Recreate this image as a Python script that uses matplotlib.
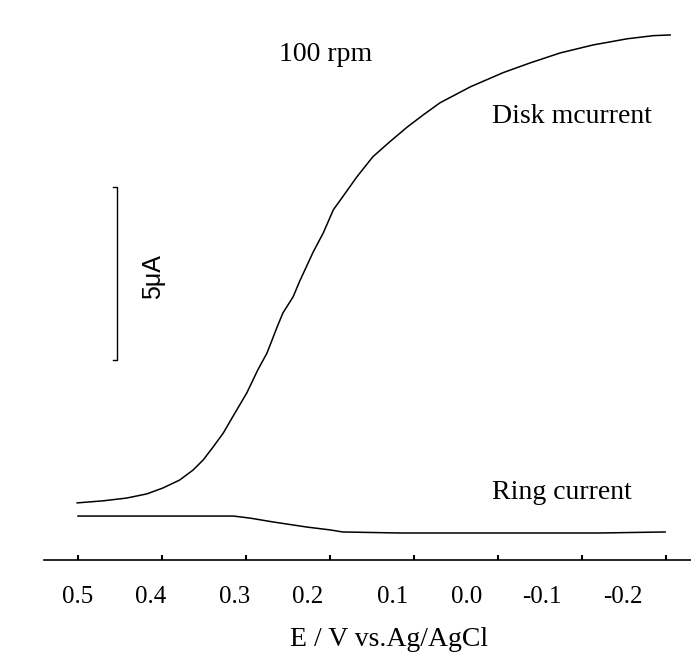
import numpy as np
import matplotlib.pyplot as plt
from matplotlib.ticker import FixedLocator, FixedFormatter

plt.rcParams['font.family'] = ['Liberation Serif', 'DejaVu Serif']

# Disk current (uA) vs potential (V vs Ag/AgCl)
disk_E = [0.501, 0.470, 0.442, 0.418, 0.399, 0.379, 0.363, 0.351, 0.339, 0.327,
          0.316, 0.299, 0.286, 0.275, 0.263, 0.256, 0.244, 0.236, 0.220, 0.208,
          0.196, 0.185, 0.168, 0.149, 0.129, 0.108, 0.089, 0.069, 0.033, -0.006,
          -0.038, -0.074, -0.113, -0.154, -0.185, -0.205]
disk_I = [1.65, 1.71, 1.79, 1.91, 2.08, 2.31, 2.60, 2.89, 3.27, 3.67,
          4.13, 4.83, 5.49, 5.98, 6.73, 7.14, 7.60, 8.06, 8.90, 9.45,
          10.12, 10.49, 11.07, 11.65, 12.08, 12.51, 12.86, 13.21, 13.67, 14.08,
          14.36, 14.65, 14.88, 15.06, 15.15, 15.17]

# Ring current trace
ring_E = [0.500, 0.414, 0.315, 0.295, 0.268, 0.227, 0.200, 0.185, 0.117,
          -0.002, -0.121, -0.199]
ring_I = [1.27, 1.27, 1.27, 1.21, 1.10, 0.95, 0.87, 0.81, 0.78,
          0.78, 0.78, 0.81]

# axis ticks and the (offset) tick labels as printed
tick_E = [0.5, 0.4, 0.3, 0.2, 0.1, 0.0, -0.1, -0.2]
label_E = [0.501, 0.414, 0.314, 0.227, 0.125, 0.037, -0.052, -0.149]
tick_labels = ['0.5', '0.4', '0.3', '0.2', '0.1', '0.0', '-0.1', '-0.2']

# scale bar: 5 uA
bar_E = 0.4536
bar_I = [5.78, 10.78]

fig = plt.figure(figsize=(6.91, 6.57), dpi=100)
ax = fig.add_axes([44 / 691, 97 / 657, 1 - 44 / 691, 560 / 657])

ax.plot(disk_E, disk_I, color='black', lw=1.1, solid_joinstyle='round')
ax.plot(ring_E, ring_I, color='black', lw=1.1, solid_joinstyle='round')

# scale bar with small end serifs
ax.plot([bar_E + 0.005, bar_E, bar_E, bar_E + 0.005],
        [bar_I[1], bar_I[1], bar_I[0], bar_I[0]], color='black', lw=1.0)
ax.text(0.4107, 8.18, '5μA', rotation=90, ha='center', va='center',
        fontsize=18, family=['Liberation Sans', 'DejaVu Sans'])

ax.text(0.2048, 14.6, '100 rpm', ha='center', va='center', fontsize=20)
ax.text(-0.088, 12.8, 'Disk mcurrent', ha='center', va='center', fontsize=20)
ax.text(-0.076, 1.94, 'Ring current', ha='center', va='center', fontsize=20)

ax.set_xlim(0.5405, -0.2298)
ax.set_ylim(0, 16.18)

for s in ['top', 'right', 'left']:
    ax.spines[s].set_visible(False)
ax.spines['bottom'].set_linewidth(1.2)
ax.set_yticks([])

ax.xaxis.set_major_locator(FixedLocator(tick_E))
ax.xaxis.set_major_formatter(FixedFormatter([''] * len(tick_E)))
ax.xaxis.set_minor_locator(FixedLocator(label_E))
ax.xaxis.set_minor_formatter(FixedFormatter(tick_labels))
ax.tick_params(axis='x', which='major', direction='in', length=3.5, width=1.5)
ax.tick_params(axis='x', which='minor', length=0, pad=19, labelsize=18)

fig.text(389 / 691, 1 - 640 / 657, 'E / V vs.Ag/AgCl', ha='center', va='center',
         fontsize=20)

fig.savefig('out.png', dpi=100, facecolor='white')
